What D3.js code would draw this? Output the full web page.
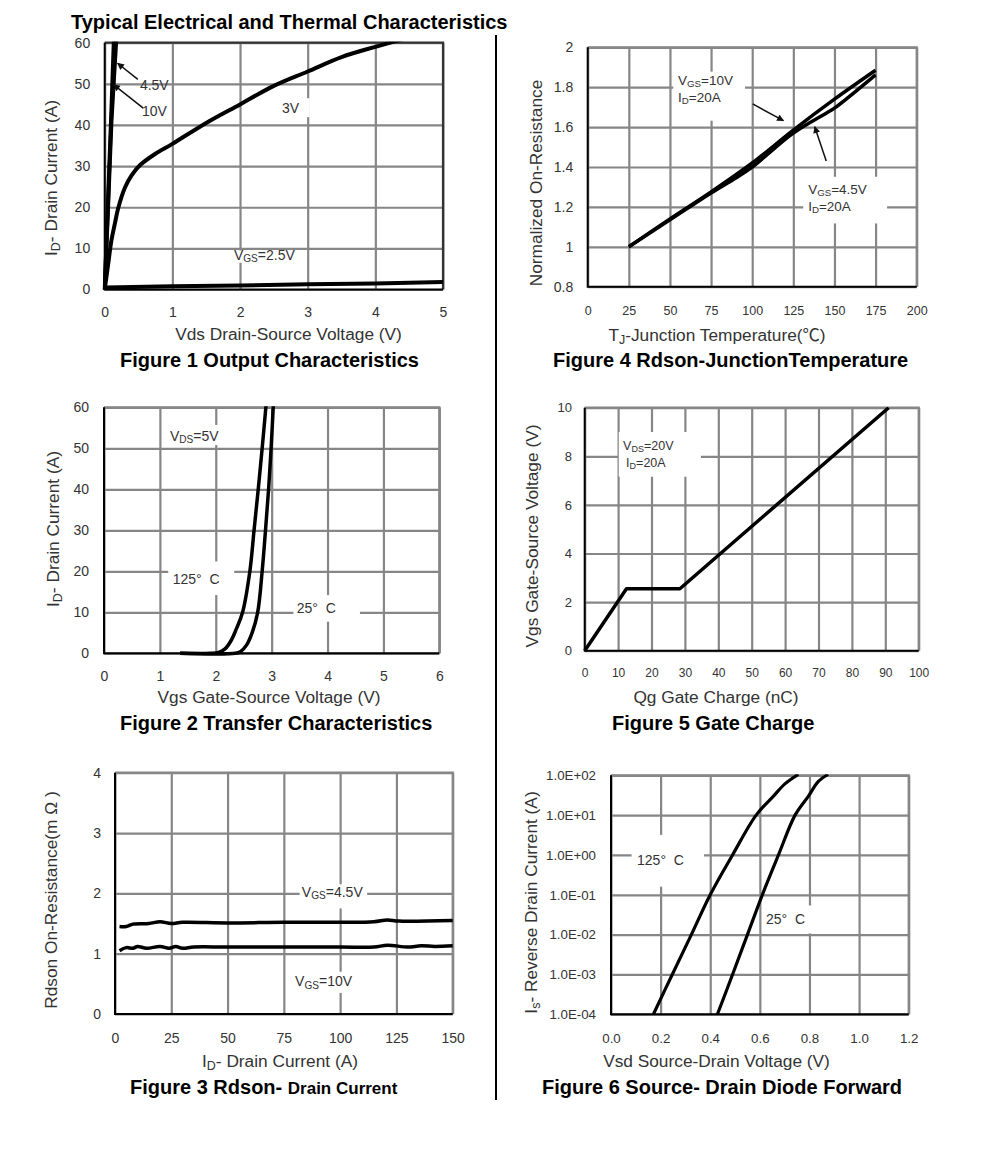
<!DOCTYPE html>
<html><head><meta charset="utf-8">
<script src="https://cdn.jsdelivr.net/npm/d3@7"></script>
<style>html,body{margin:0;padding:0;background:#fff}svg{display:block}text{font-family:"Liberation Sans","Noto Sans CJK SC",Arial,sans-serif}</style>
</head><body><svg id="c" width="991" height="1152"></svg>
<script>
// ---------- Data ----------
const f1Vgs25 = [[0,0],[0,0.4],[0.03,0.5],[1,0.8],[2,1.0],[3,1.25],[4,1.45],[5,1.8]];
const f1Vgs3 = [[0,0],[0.05,6],[0.1,12],[0.15,16],[0.2,19.8],[0.3,24.8],[0.4,27.8],[0.52,30.2],[0.75,33],[1,35.4],[1.5,40.5],[2,45],[2.5,49.5],[3,53],[3.5,56.5],[4,59],[4.4,60.8]];
const f1Vgs45 = [[0,0],[0.05,20],[0.1,41],[0.17,60.5]];
const f1Vgs10 = [[0,0],[0.05,22],[0.1,44],[0.135,60.5]];
const f2T125 = [[1.36,0],[1.9,0],[2.05,0.2],[2.16,1],[2.27,3],[2.37,6],[2.48,10],[2.61,20],[2.685,30],[2.76,40],[2.83,50],[2.9,60.5]];
const f2T25 = [[1.36,0],[2.35,0],[2.44,0.4],[2.55,2],[2.65,5],[2.75,10],[2.83,20],[2.89,30],[2.945,40],[2.99,50],[3.03,60.5]];
const f3Vgs45 = [[2,1.45],[5,1.45],[8,1.49],[15,1.5],[20,1.53],[25,1.5],[30,1.52],[50,1.51],[75,1.52],[100,1.52],[115,1.53],[121,1.56],[126,1.54],[150,1.55]];
const f3Vgs10 = [[2,1.05],[5,1.1],[8,1.09],[10,1.12],[14,1.09],[20,1.12],[24,1.09],[27,1.12],[30,1.09],[35,1.11],[50,1.11],[100,1.11],[115,1.11],[121,1.14],[130,1.11],[136,1.13],[142,1.12],[150,1.13]];
const f4Vgs10 = [[25,1],[50,1.14],[75,1.275],[100,1.42],[125,1.585],[150,1.74],[175,1.885]];
const f4Vgs45 = [[25,1],[50,1.135],[75,1.27],[90,1.345],[100,1.40],[125,1.57],[145,1.67],[150,1.695],[175,1.862]];
const f5Qg = [[0,0],[12.5,2.55],[28.5,2.55],[91,10]];
const f6T125 = [[0.171,1e-4],[0.247,1e-3],[0.324,1e-2],[0.40,1e-1],[0.49,1],[0.585,10],[0.655,30],[0.70,60],[0.755,105]];
const f6T25 = [[0.429,1e-4],[0.49,1e-3],[0.55,1e-2],[0.61,1e-1],[0.675,1],[0.742,10],[0.796,30],[0.836,70],[0.875,105]];

const ticks1X=[0,1,2,3,4,5], ticks1Y=[0,10,20,30,40,50,60];
const ticks2X=[0,1,2,3,4,5,6], ticks2Y=[0,10,20,30,40,50,60];
const ticks3X=[0,25,50,75,100,125,150], ticks3Y=[0,1,2,3,4];
const ticks4X=[0,25,50,75,100,125,150,175,200], ticks4Y=[0.8,1,1.2,1.4,1.6,1.8,2];
const ticks5X=[0,10,20,30,40,50,60,70,80,90,100], ticks5Y=[0,2,4,6,8,10];
const ticks6X=[0,0.2,0.4,0.6,0.8,1.0,1.2], ticks6Y=[1e-4,1e-3,1e-2,1e-1,1,10,100];
const ticks6YLabels=["1.0E-04","1.0E-03","1.0E-02","1.0E-01","1.0E+00","1.0E+01","1.0E+02"];

const svg=d3.select("#c");
const TXT="#333";
svg.append("defs").append("marker").attr("id","ah").attr("viewBox","0 0 10 10").attr("refX",9).attr("refY",5)
  .attr("markerWidth",8).attr("markerHeight",7).attr("markerUnits","userSpaceOnUse").attr("orient","auto")
  .append("path").attr("d","M0,0L10,5L0,10Z").attr("fill","#111");

function rich(sel,segs,size){
  const t=sel.attr("font-size",size).attr("fill",TXT);
  segs.forEach((s,i)=>{
    const isSub=Array.isArray(s);
    const ts=t.append("tspan").text(isSub?s[0]:s);
    if(isSub){ts.attr("font-size",size*0.72).attr("dy",size*0.18);}
    else if(i>0&&Array.isArray(segs[i-1])){ts.attr("dy",-size*0.18);}
  });
  return t;
}
const cat=d3.curveCatmullRom.alpha(0.5);
function chart(o){
  const x=(o.xScale||d3.scaleLinear)().domain(o.xd).range([o.l,o.r]);
  const y=(o.yScale||d3.scaleLinear)().domain(o.yd).range([o.b,o.t]);
  const w=o.r-o.l,h=o.b-o.t;
  const gridC="#868686", gridW=2.2;
  const gx=svg.append("g").attr("transform",`translate(0,${o.b})`)
    .call(d3.axisBottom(x).tickValues(o.xt).tickSize(-h).tickFormat(o.xf||d3.format("")));
  gx.select(".domain").remove();
  gx.selectAll("line").attr("stroke",gridC).attr("stroke-width",gridW);
  gx.selectAll("text").attr("y",o.xOff).attr("dy",0).attr("font-size",o.xfs||o.fs).attr("fill",TXT).attr("font-family",null);
  const gy=svg.append("g").attr("transform",`translate(${o.l},0)`)
    .call(d3.axisLeft(y).tickValues(o.yt).tickSize(-w).tickFormat(o.yf||d3.format("")));
  gy.select(".domain").remove();
  gy.selectAll("line").attr("stroke",gridC).attr("stroke-width",gridW);
  gy.selectAll("text").attr("x",-o.yOff).attr("font-size",o.fs).attr("fill",TXT).attr("font-family",null);
  (o.masks||[]).forEach(m=>{
    svg.append("rect").attr("x",x(m[0])).attr("width",x(m[1])-x(m[0]))
      .attr("y",y(m[3])).attr("height",y(m[2])-y(m[3])).attr("fill","#fff");
  });
  svg.append("path").attr("d",`M${o.l},${o.t}H${o.r}V${o.b}`).attr("fill","none").attr("stroke",o.frameC||gridC).attr("stroke-width",gridW);
  svg.append("path").attr("d",`M${o.l},${o.t}V${o.b}H${o.r}`).attr("fill","none").attr("stroke","#000").attr("stroke-width",2);
  const id="cp"+o.id;
  svg.append("clipPath").attr("id",id).append("rect").attr("x",o.l-2).attr("y",o.t-1).attr("width",w+6).attr("height",h+4);
  o.curves.forEach(c=>{
    const line=d3.line().x(d=>x(d[0])).y(d=>y(d[1])).curve(c.curve||cat);
    svg.append("path").datum(c.data).attr("d",line).attr("fill","none").attr("stroke","#000")
      .attr("stroke-width",c.w).attr("stroke-linejoin","round").attr("clip-path",`url(#${id})`);
  });
  (o.arrows||[]).forEach(a=>{
    svg.append("line").attr("x1",x(a[0])).attr("y1",y(a[1])).attr("x2",x(a[2])).attr("y2",y(a[3]))
      .attr("stroke","#111").attr("stroke-width",1.5).attr("marker-end","url(#ah)");
  });
  (o.notes||[]).forEach(n=>{
    rich(svg.append("text").attr("x",x(n.x)).attr("y",y(n.y)),n.t,n.fs||14);
  });
  rich(svg.append("text").attr("x",o.xtx).attr("y",o.xty+1).attr("text-anchor","middle"),o.xTitle,17.3);
  rich(svg.append("text").attr("text-anchor","middle").attr("transform",`translate(${o.ytx},${o.yty}) rotate(-90)`),o.yTitle,17.3);
  const cap=svg.append("text").attr("x",o.capx).attr("y",o.capy+1).attr("font-weight","bold").attr("font-size",20).attr("fill","#000");
  o.cap.forEach(s=>{const ts=cap.append("tspan").text(s[0]); if(s[1]) ts.attr("font-size",s[1]);});
}

svg.append("text").attr("x",71).attr("y",29).attr("font-weight","bold").attr("font-size",20).attr("fill","#000")
  .text("Typical Electrical and Thermal Characteristics");
svg.append("line").attr("x1",496).attr("x2",496).attr("y1",35).attr("y2",1100).attr("stroke","#000").attr("stroke-width",2);

chart({id:1,l:104.7,r:443,t:42.7,b:289.5,xd:[0,5],yd:[0,60],xt:ticks1X,yt:ticks1Y,fs:14,xOff:27.5,yOff:14.5,frameC:"#333",
  curves:[{data:f1Vgs25,w:4,curve:d3.curveLinear},{data:f1Vgs3,w:4},{data:f1Vgs45,w:4,curve:d3.curveLinear},{data:f1Vgs10,w:4,curve:d3.curveLinear}],
  masks:[[2.6,3.03,41.9,46.5],[1.9,2.8,6.5,9.5]],
  arrows:[[0.49,51.1,0.19,55],[0.57,44.1,0.13,49.8]],
  notes:[{x:0.52,y:48.5,t:["4.5V"]},{x:0.55,y:42.2,t:["10V"]},{x:2.62,y:42.9,t:["3V"]},{x:1.91,y:7.2,t:["V",["GS"],"=2.5V"]}],
  xTitle:["Vds Drain-Source Voltage (V)"],xtx:288.5,xty:339,
  yTitle:["I",["D"],"- Drain Current (A)"],ytx:57,yty:178,
  cap:[["Figure 1 Output Characteristics"]],capx:120,capy:366});

chart({id:2,l:104,r:439.3,t:407.3,b:653.3,xd:[0,6],yd:[0,60],xt:ticks2X,yt:ticks2Y,fs:14,xOff:28,yOff:15,
  curves:[{data:f2T125,w:3.5},{data:f2T25,w:3.5}],
  masks:[[1.1,2.05,50.8,55.7],[1.15,2.33,14.2,22.4],[3.39,4.58,7.7,14.2]],
  notes:[{x:1.18,y:51.8,t:["V",["DS"],"=5V"]},{x:1.23,y:16.9,t:["125°\u00a0\u00a0C"]},{x:3.45,y:9.8,t:["25°\u00a0\u00a0C"]}],
  xTitle:["Vgs Gate-Source Voltage (V)"],xtx:269,xty:702,
  yTitle:["I",["D"],"- Drain Current (A)"],ytx:59,yty:529,
  cap:[["Figure 2 Transfer Characteristics"]],capx:120,capy:729});

chart({id:3,l:115,r:452.7,t:772.7,b:1014,xd:[0,150],yd:[0,4],xt:ticks3X,yt:ticks3Y,fs:14,xOff:29,yOff:14,
  curves:[{data:f3Vgs45,w:3.5},{data:f3Vgs10,w:3.5}],
  masks:[[82,112,1.75,2.15],[79,104,0.35,0.7]],
  notes:[{x:83,y:1.94,t:["V",["GS"],"=4.5V"]},{x:80,y:0.46,t:["V",["GS"],"=10V"]}],
  xTitle:["I",["D"],"- Drain Current (A)"],xtx:280,xty:1066,
  yTitle:["Rdson On-Resistance(m \u03a9 )"],ytx:57,yty:900,
  cap:[["Figure 3 Rdson- "],["Drain Current",17]],capx:130,capy:1093});

chart({id:4,l:587.7,r:916.7,t:47.3,b:286.7,xd:[0,200],yd:[0.8,2],xt:ticks4X,yt:ticks4Y,fs:14,xfs:12.5,xOff:28,yOff:14.5,
  yf:d3.format("~g"),
  curves:[{data:f4Vgs10,w:3.5},{data:f4Vgs45,w:3.5}],
  masks:[[52,95.6,1.632,1.878],[131,182,1.117,1.351]],
  arrows:[[100.3,1.716,119,1.632],[145,1.43,138,1.602]],
  notes:[{x:54.9,y:1.811,t:["V",["GS"],"=10V"],fs:13.5},{x:54.9,y:1.726,t:["I",["D"],"=20A"],fs:13.5},
         {x:134,y:1.265,t:["V",["GS"],"=4.5V"],fs:13.5},{x:134,y:1.18,t:["I",["D"],"=20A"],fs:13.5}],
  xTitle:["T",["J"],"-Junction Temperature(℃)"],xtx:717,xty:340,
  yTitle:["Normalized On-Resistance"],ytx:542,yty:183,
  cap:[["Figure 4 Rdson-JunctionTemperature"]],capx:553,capy:366});

chart({id:5,l:584.7,r:918.7,t:407.7,b:650.7,xd:[0,100],yd:[0,10],xt:ticks5X,yt:ticks5Y,fs:13,xfs:12,xOff:26,yOff:12.7,
  curves:[{data:f5Qg,w:3.5,curve:d3.curveLinear}],
  masks:[[10.2,34.8,7.16,9.0]],
  notes:[{x:11.5,y:8.25,t:["V",["DS"],"=20V"],fs:12.5},{x:12.4,y:7.55,t:["I",["D"],"=20A"],fs:12.5}],
  xTitle:["Qg Gate Charge (nC)"],xtx:716,xty:702,
  yTitle:["Vgs Gate-Source Voltage (V)"],ytx:538,yty:536,
  cap:[["Figure 5 Gate Charge"]],capx:612,capy:729});

chart({id:6,l:611,r:908.7,t:775.3,b:1014.3,xd:[0,1.2],yd:[1e-4,100],yScale:d3.scaleLog,xt:ticks6X,yt:ticks6Y,fs:13.3,xOff:29,yOff:15,
  xf:d3.format(".1f"),yf:(d,i)=>ticks6YLabels[i],
  curves:[{data:f6T125,w:3.2},{data:f6T25,w:3.2}],
  masks:[[0.083,0.375,0.16,3.2],[0.615,0.81,0.0107,0.054]],
  notes:[{x:0.105,y:0.56,t:["125°\u00a0\u00a0C"]},{x:0.625,y:0.0186,t:["25°\u00a0\u00a0C"]}],
  xTitle:["Vsd Source-Drain Voltage (V)"],xtx:716.5,xty:1066,
  yTitle:["I",["s"],"- Reverse Drain Current (A)"],ytx:537,yty:902.5,
  cap:[["Figure 6 Source- Drain Diode Forward"]],capx:542,capy:1093});
</script></body></html>
